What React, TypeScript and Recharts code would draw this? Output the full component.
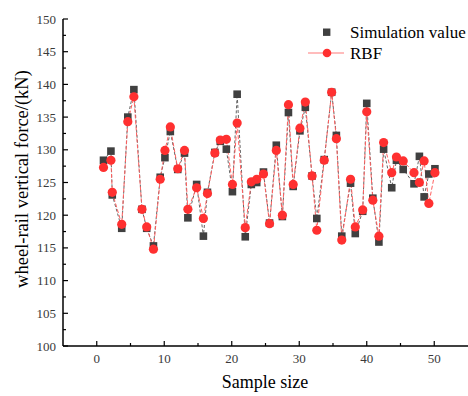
import * as React from "react";
import { LineChart, Line, XAxis, YAxis, Legend, Label } from "recharts";

// sample positions
const sampleX = [
  1.0, 2.1, 2.3, 3.7, 4.6, 5.5, 6.7, 7.4, 8.4, 9.4,
  10.1, 10.9, 12.0, 13.0, 13.5, 14.8, 15.8, 16.4, 17.5, 18.3,
  19.2, 20.1, 20.8, 22.0, 22.9, 23.7, 24.7, 25.6, 26.6, 27.5,
  28.4, 29.1, 30.1, 30.9, 31.9, 32.6, 33.7, 34.8, 35.5, 36.3,
  37.6, 38.3, 39.4, 40.0, 40.9, 41.8, 42.5, 43.7, 44.4, 45.4,
  47.0, 47.8, 48.5, 49.2, 50.1,
];

const simulationValue = [
  128.4, 129.8, 123.1, 118.0, 135.0, 139.2, 120.9, 118.0, 115.3, 125.8,
  128.8, 132.8, 127.0, 129.5, 119.6, 124.7, 116.8, 123.5, 129.6, 131.3,
  130.1, 123.6, 138.5, 116.7, 124.7, 125.0, 126.6, 118.8, 130.7, 119.8,
  135.7, 124.4, 132.9, 136.5, 126.0, 119.5, 128.5, 138.8, 132.2, 116.8,
  124.9, 117.2, 120.6, 137.1, 122.6, 115.9, 130.1, 124.2, 128.4, 127.0,
  124.8, 129.0, 122.8, 126.3, 127.1,
];

const rbfValue = [
  127.3, 128.4, 123.5, 118.6, 134.3, 138.1, 120.9, 118.2, 114.8, 125.5,
  129.9, 133.5, 127.1, 129.9, 120.9, 124.2, 119.5, 123.3, 129.5, 131.5,
  131.6, 124.7, 134.1, 118.1, 125.1, 125.5, 126.3, 118.7, 129.9, 120.0,
  136.9, 124.7, 133.3, 137.3, 126.0, 117.7, 128.4, 138.8, 131.7, 116.2,
  125.5, 118.2, 120.8, 135.8, 122.3, 116.8, 131.1, 126.5, 128.9, 128.3,
  126.5, 125.0, 128.3, 121.8, 126.5,
];

const xTicks = [0, 5, 10, 15, 20, 25, 30, 35, 40, 45, 50];
const yTicks = [
  100, 102.5, 105, 107.5, 110, 112.5, 115, 117.5, 120, 122.5, 125, 127.5,
  130, 132.5, 135, 137.5, 140, 142.5, 145, 147.5, 150,
];

const FONT = '"Liberation Serif", "Times New Roman", serif';
const SQUARE = "#404040";
const RED = "#ff3030";

const simData = sampleX.map((x, i) => ({ x, y: simulationValue[i] }));
const rbfData = sampleX.map((x, i) => ({ x, y: rbfValue[i] }));

function YTick(props: any) {
  const { x, y, payload } = props;
  const major = payload.value % 5 === 0;
  return (
    <g>
      <line x1={x} x2={x + (major ? 5 : 3)} y1={y} y2={y} stroke="#000" strokeWidth={1.2} />
      {major && (
        <text x={x - 7} y={y} dy={4.5} textAnchor="end" fontSize={13} style={{ fontFamily: FONT }} fill="#3a3a3a">
          {payload.value}
        </text>
      )}
    </g>
  );
}

function XTick(props: any) {
  const { x, y, payload } = props;
  const major = payload.value % 10 === 0;
  return (
    <g>
      <line x1={x} x2={x} y1={y} y2={y - (major ? 5 : 3)} stroke="#000" strokeWidth={1.2} />
      {major && (
        <text x={x} y={y + 17} textAnchor="middle" fontSize={13} style={{ fontFamily: FONT }} fill="#3a3a3a">
          {payload.value}
        </text>
      )}
    </g>
  );
}

function SquareDot(props: any) {
  const { cx, cy, index } = props;
  return <rect key={`s-${index}`} x={cx - 3.8} y={cy - 3.8} width={7.6} height={7.6} fill={SQUARE} />;
}

function CircleDot(props: any) {
  const { cx, cy, index } = props;
  return <circle key={`c-${index}`} cx={cx} cy={cy} r={4.6} fill={RED} />;
}

function LegendBox() {
  return (
    <svg width={168} height={44} style={{ display: "block", overflow: "visible" }}>
      <rect x={23} y={8.5} width={7.4} height={7.4} fill={SQUARE} />
      <text x={50} y={18} fontSize={17} style={{ fontFamily: FONT }} fill="#000">
        Simulation value
      </text>
      <line x1={8} x2={44} y1={33} y2={33} stroke="#ff7a7a" strokeWidth={1.2} />
      <circle cx={27} cy={33} r={4.3} fill={RED} />
      <text x={50} y={38.5} fontSize={17} style={{ fontFamily: FONT }} fill="#000">
        RBF
      </text>
    </svg>
  );
}

export default function App() {
  return (
    <div style={{ position: "absolute", left: 0, top: 0, width: 468, height: 396, background: "#fff" }}>
      <LineChart width={468} height={396} margin={{ top: 19, right: 0, bottom: 0, left: 0 }}>
        <XAxis
          dataKey="x"
          type="number"
          domain={[-5, 55]}
          ticks={xTicks}
          interval={0}
          height={50}
          tickSize={0}
          tickMargin={0}
          tickLine={false}
          tick={<XTick />}
          axisLine={{ stroke: "#000", strokeWidth: 1.5 }}
          allowDataOverflow
        >
          <Label
            content={() => (
              <text x={265} y={388} textAnchor="middle" fontSize={18} style={{ fontFamily: FONT }} fill="#000">
                Sample size
              </text>
            )}
          />
        </XAxis>
        <YAxis
          type="number"
          domain={[100, 150]}
          ticks={yTicks}
          interval={0}
          width={63}
          tickSize={0}
          tickMargin={0}
          tickLine={false}
          tick={<YTick />}
          axisLine={{ stroke: "#000", strokeWidth: 1.5 }}
          allowDataOverflow
        >
          <Label
            content={() => (
              <text
                x={0}
                y={0}
                transform="translate(28 179) rotate(-90)"
                textAnchor="middle"
                fontSize={18.5}
                style={{ fontFamily: FONT }}
                fill="#000"
              >
                wheel-rail vertical force/(kN)
              </text>
            )}
          />
        </YAxis>
        <Legend
          layout="horizontal"
          verticalAlign="middle"
          content={() => <LegendBox />}
          wrapperStyle={{ position: "absolute", left: 300, top: 20, width: 168, height: 44 }}
        />
        <Line
          data={simData}
          dataKey="y"
          name="Simulation value"
          type="linear"
          stroke="#666"
          strokeWidth={1}
          strokeDasharray="3 2"
          dot={SquareDot}
          activeDot={false}
          isAnimationActive={false}
        />
        <Line
          data={rbfData}
          dataKey="y"
          name="RBF"
          type="linear"
          stroke="#ff6060"
          strokeWidth={1}
          strokeDasharray="4 2"
          dot={CircleDot}
          activeDot={false}
          isAnimationActive={false}
        />
      </LineChart>
    </div>
  );
}
